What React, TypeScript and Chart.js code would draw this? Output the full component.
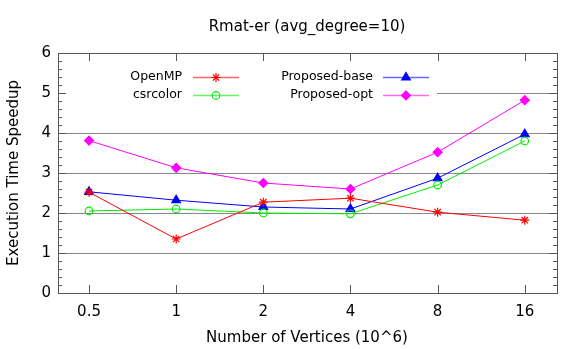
import React, { useEffect, useRef } from "react";
import { Chart, registerables } from "chart.js";
import { drawPoint } from "chart.js/helpers";

Chart.register(...registerables);

const categories = ["0.5", "1", "2", "4", "8", "16"];
const openmp = [2.52, 1.35, 2.27, 2.37, 2.02, 1.82];
const csrcolor = [2.05, 2.1, 2.0, 1.98, 2.7, 3.8];
const proposedBase = [2.53, 2.32, 2.15, 2.1, 2.87, 3.97];
const proposedOpt = [3.81, 3.13, 2.75, 2.6, 3.52, 4.82];
const yTicks = [0, 1, 2, 3, 4, 5, 6];

const FONT = "'DejaVu Sans', sans-serif";

const series = [
  { label: "OpenMP", data: openmp, color: "#ff0000", style: "star", r: 4.5, filled: false },
  { label: "csrcolor", data: csrcolor, color: "#00ee00", style: "circle", r: 3.8, filled: false },
  { label: "Proposed-base", data: proposedBase, color: "#0000ff", style: "triangle", r: 5, filled: true },
  { label: "Proposed-opt", data: proposedOpt, color: "#ff00ff", style: "rectRot", r: 4.5, filled: true },
];

const framePlugin = {
  id: "frame",
  beforeDatasetsDraw(chart: any) {
    const { ctx, chartArea: a, scales } = chart;
    const y = scales.y;
    const x = scales.x;
    ctx.save();
    ctx.fillStyle = "#ffffff";
    ctx.fillRect(a.left + 1, 62, 437 - a.left - 1, 42);
    ctx.strokeStyle = "#555555";
    ctx.lineWidth = 1;
    ctx.beginPath();
    for (let k = 0; k <= 30; k++) {
      const v = k * 0.2;
      const py = Math.round(y.getPixelForValue(v)) + 0.5;
      const major = k % 5 === 0;
      const len = major ? 8 : 4;
      ctx.moveTo(a.left, py);
      ctx.lineTo(a.left + len, py);
      ctx.moveTo(a.right, py);
      ctx.lineTo(a.right - len, py);
    }
    for (let i = 0; i < categories.length; i++) {
      const px = Math.round(x.getPixelForValue(i)) + 0.5;
      ctx.moveTo(px, a.bottom);
      ctx.lineTo(px, a.bottom - 8);
      ctx.moveTo(px, a.top);
      ctx.lineTo(px, a.top + 8);
    }
    ctx.stroke();
    ctx.strokeRect(Math.round(a.left) + 0.5, Math.round(a.top) + 0.5, Math.round(a.right - a.left), Math.round(a.bottom - a.top));
    ctx.restore();
  },
  afterDraw(chart: any) {
    const { ctx } = chart;
    ctx.save();
    ctx.fillStyle = "#000000";
    ctx.font = `15px ${FONT}`;
    ctx.textAlign = "center";
    ctx.textBaseline = "middle";
    ctx.fillText("Rmat-er (avg_degree=10)", 307, 27);
    ctx.fillText("Number of Vertices (10^6)", 307, 338);
    ctx.save();
    ctx.translate(14, 173);
    ctx.rotate(-Math.PI / 2);
    ctx.fillText("Execution Time Speedup", 0, 0);
    ctx.restore();
    ctx.font = `12.5px ${FONT}`;
    ctx.textAlign = "right";
    const rows = [
      { s: series[0], tx: 182, sx: 193, y: 77 },
      { s: series[1], tx: 182, sx: 193, y: 95 },
      { s: series[2], tx: 373, sx: 383, y: 77 },
      { s: series[3], tx: 373, sx: 383, y: 95 },
    ];
    for (const r of rows) {
      ctx.fillStyle = "#000000";
      ctx.fillText(r.s.label, r.tx, r.y);
      ctx.strokeStyle = r.s.color;
      ctx.globalAlpha = 0.6;
      ctx.lineWidth = 1.5;
      ctx.beginPath();
      ctx.moveTo(r.sx, r.y + 0.5);
      ctx.lineTo(r.sx + 46, r.y + 0.5);
      ctx.stroke();
      ctx.globalAlpha = 1;
      ctx.strokeStyle = r.s.color;
      ctx.fillStyle = r.s.filled ? r.s.color : "rgba(0,0,0,0)";
      ctx.lineWidth = 1.2;
      drawPoint(ctx, { pointStyle: r.s.style as any, radius: r.s.r, borderWidth: 1.2, rotation: 0 } as any, r.sx + 23, r.y + 0.5);
    }
    ctx.restore();
  },
};

export default function App() {
  const ref = useRef<HTMLCanvasElement>(null);
  useEffect(() => {
    if (!ref.current) return;
    const chart = new Chart(ref.current, {
      type: "line",
      data: {
        datasets: series.map((s) => ({
          label: s.label,
          data: s.data.map((v, i) => ({ x: i, y: v })),
          borderColor: s.color,
          backgroundColor: s.filled ? s.color : "rgba(0,0,0,0)",
          pointBorderColor: s.color,
          pointBackgroundColor: s.filled ? s.color : "rgba(0,0,0,0)",
          pointStyle: s.style as any,
          pointRadius: s.r,
          pointBorderWidth: 1.2,
          borderWidth: 1,
          tension: 0,
          fill: false,
        })),
      },
      options: {
        responsive: false,
        animation: false,
        devicePixelRatio: 1,
        layout: { padding: { left: 0, right: 24, top: 53, bottom: 0 } },
        plugins: {
          legend: { display: false },
          title: { display: false },
          tooltip: { enabled: false },
        },
        scales: {
          x: {
            type: "linear",
            min: -0.356,
            max: 5.37,
            afterBuildTicks: (scale: any) => {
              scale.ticks = categories.map((_, i) => ({ value: i }));
            },
            afterFit: (scale: any) => {
              scale.height = 56;
            },
            grid: { display: false, drawTicks: false },
            border: { display: false },
            ticks: {
              padding: 10,
              color: "#000",
              font: { family: FONT, size: 15 },
              maxRotation: 0,
              callback: (v: any) => categories[Math.round(v)] ?? "",
            },
          },
          y: {
            min: 0,
            max: 6,
            afterBuildTicks: (scale: any) => {
              scale.ticks = yTicks.map((v) => ({ value: v }));
            },
            afterFit: (scale: any) => {
              scale.width = 58;
            },
            grid: { color: "#888888", lineWidth: 1, drawTicks: false },
            border: { display: false },
            ticks: {
              padding: 7,
              color: "#000",
              font: { family: FONT, size: 15 },
            },
          },
        },
      },
      plugins: [framePlugin],
    });
    return () => chart.destroy();
  }, []);
  return (
    <div style={{ position: "absolute", left: 0, top: 0, width: 581, height: 349, background: "#fff" }}>
      <canvas ref={ref} width={581} height={349} style={{ display: "block" }} />
    </div>
  );
}
